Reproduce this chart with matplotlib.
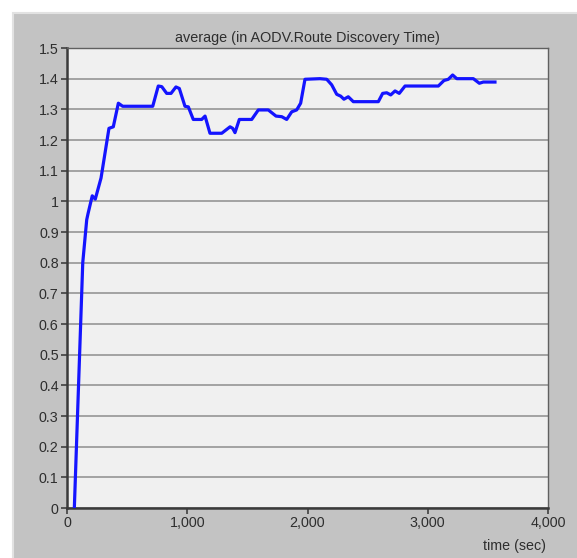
import numpy as np
import matplotlib.pyplot as plt
from matplotlib.patches import Rectangle
from matplotlib.ticker import FuncFormatter

plt.rcParams['font.family'] = ['Liberation Sans', 'DejaVu Sans']

# route discovery time, running average (sim time in seconds)
t_sec = [61, 131, 164, 175, 210, 235, 283, 349, 385, 427, 463,
         713, 759, 788, 829, 865, 906, 934, 981, 1009, 1050, 1120,
         1148, 1189, 1287, 1356, 1378, 1397, 1433, 1536, 1591, 1674,
         1738, 1786, 1827, 1869, 1910, 1943, 1979, 2104, 2160, 2201,
         2243, 2276, 2303, 2339, 2381, 2589, 2625, 2659, 2692, 2728,
         2763, 2811, 3088, 3135, 3171, 3207, 3241, 3379, 3429, 3462, 3559]
avg_rdt = [0.0, 0.80, 0.94, 0.96, 1.018, 1.007, 1.076, 1.238, 1.243, 1.32, 1.31,
           1.31, 1.376, 1.374, 1.352, 1.352, 1.373, 1.368, 1.31, 1.308, 1.267, 1.267,
           1.278, 1.222, 1.222, 1.243, 1.238, 1.224, 1.267, 1.267, 1.298, 1.298,
           1.278, 1.276, 1.267, 1.292, 1.298, 1.32, 1.398, 1.4, 1.398, 1.38,
           1.349, 1.343, 1.333, 1.341, 1.325, 1.325, 1.352, 1.354, 1.347, 1.36,
           1.352, 1.376, 1.376, 1.394, 1.398, 1.412, 1.40, 1.40, 1.385, 1.389, 1.389]

W, H = 577, 558
fig = plt.figure(figsize=(W / 100, H / 100), dpi=100, facecolor='white')

# grey panel behind the plot (runs off the right and bottom edges)
fig.patches.append(Rectangle((13 / W, -0.05), 1.1, 1.05 - 13 / H,
                             transform=fig.transFigure, facecolor='#c3c3c3',
                             edgecolor='#e2e2e2', linewidth=1.5, zorder=-10))

ax = fig.add_axes([67 / W, 1 - 508 / H, (548 - 67) / W, (508 - 48) / H])
ax.set_zorder(5)
ax.set_facecolor('#f0f0f0')

ax.plot(t_sec, avg_rdt, color='#1414ff', linewidth=2.3, solid_joinstyle='round',
        zorder=3)

ax.set_xlim(0, 4000)
ax.set_ylim(0, 1.5)
ax.set_xticks([0, 1000, 2000, 3000, 4000])
ax.set_yticks(np.arange(0, 1.51, 0.1))
ax.xaxis.set_major_formatter(FuncFormatter(lambda v, p: f"{int(v):,}"))
ax.yaxis.set_major_formatter(FuncFormatter(lambda v, p: f"{v:.1f}".rstrip('0').rstrip('.') if v else "0"))

ax.grid(axis='y', color='#a2a2a2', linewidth=1.4, zorder=1)
ax.tick_params(axis='both', direction='out', length=4, width=1.2,
               color='#404040', labelsize=10.3, labelcolor='#2e2e2e', pad=2)

for side in ['left', 'bottom']:
    ax.spines[side].set_color('#3a3a3a')
    ax.spines[side].set_linewidth(1.8)
for side in ['top', 'right']:
    ax.spines[side].set_color('#606060')
    ax.spines[side].set_linewidth(1.0)

ax.set_title("average (in AODV.Route Discovery Time)", fontsize=10.4,
             color='#2e2e2e', pad=4)
fig.text(546 / W, 1 - 546 / H, "time (sec)", ha='right', va='center',
         fontsize=10.3, color='#2e2e2e')

fig.savefig("out.png", dpi=100, facecolor=fig.get_facecolor())
